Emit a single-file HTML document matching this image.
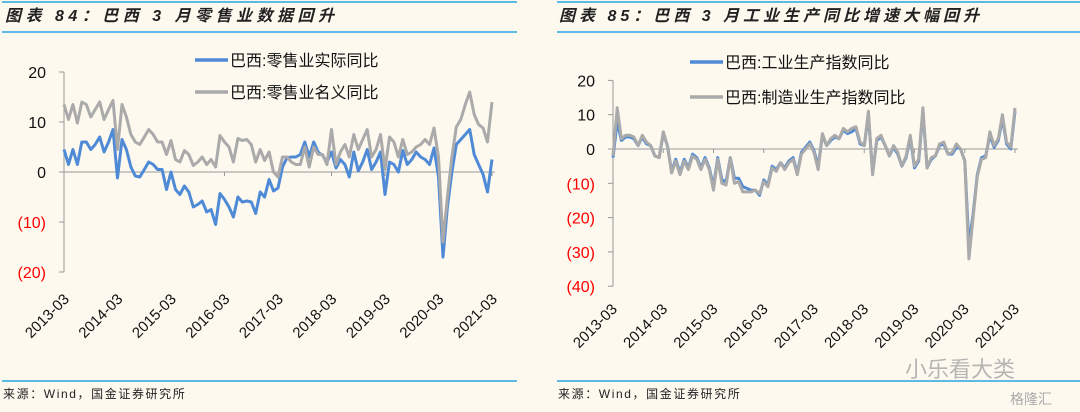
<!DOCTYPE html>
<html><head><meta charset="utf-8">
<style>
body{margin:0;background:#fdf9ef;}
svg{display:block;font-family:"Liberation Sans","Noto Sans CJK SC",sans-serif;}
</style></head>
<body>
<svg id="c" width="1080" height="412">
<rect width="1080" height="412" fill="#fdf9ef"/>
</svg>
<script>
const years=["2013-03","2014-03","2015-03","2016-03","2017-03","2018-03","2019-03","2020-03","2021-03"];
const leftTicks=[20,10,0,-10,-20];
const rightTicks=[20,10,0,-10,-20,-30,-40];
const retailReal=[4.5,1.5,4.5,1.5,6,6,4.5,5.5,7,4,6,8.5,-1.2,6.5,4.5,1,-0.8,-1,0.5,2,1.5,0.5,0.5,-3.5,0,-3.5,-4.5,-2.8,-4,-7,-6.5,-5.8,-8,-7.5,-10.5,-4.3,-5.5,-7,-9,-5,-6,-5.8,-6,-8.3,-4,-5,-1.5,-3.8,-3.2,1,2.8,3,3,3.5,6,3,6,4,3.3,2,4,0.8,2.5,1.5,-1,4,0.2,2,4.5,0.5,2,4,-4.5,2,1.5,0,4.3,1.5,2.5,4,3,2.5,1.5,4.8,-1,-17,-7,0,5.5,6.5,7.5,8.5,3.5,1.5,-0.5,-4,2.5];
const retailNominal=[13.5,10.5,13.5,9.8,14,13.5,11,12.5,14,10.5,12.5,14.3,4.5,13.5,11,7.5,6,5.5,7,8.5,7.5,6,6,3.5,6.3,2.5,2,4.3,3.5,1.3,2,3,1.5,2.5,1,7.3,6,5,2,6.7,6.3,6.5,5.5,2,4.5,2.3,4,0,-1,3,3,2,1.5,1.5,5,1,5,3.5,3.5,1.5,8.5,1.5,4,5.5,3,7.5,4.5,6.5,8.5,3,4.5,7.5,0.5,7,6,3,6.5,3.5,4,5,5.5,6.5,5.5,8.8,3,-14,-5,3,9,10.5,13.5,16,11.5,9.5,8.8,6,14];
const indProd=[-2.5,8,2.5,3.5,3.5,3,1,3.5,1.5,1,-2,-2.5,4.5,1,-6.5,-3,-7,-3,-5.5,-1.5,-2.5,-5.5,-2.5,-5.5,-11,-2.5,-9,-9.5,-2.5,-8.5,-8.5,-11,-11.5,-12,-12,-13.5,-9,-10.5,-5,-6,-4,-5.5,-3.5,-2.5,-7,-1,0.5,2,-0.5,-5,4,1,2.5,3.5,3,5.5,4.5,5,6,1.5,1,10,-7,2.5,3.5,1,-2,0.5,-1.5,-5,-2.5,3.5,-5.5,-3.5,11,-5.5,-3,-2,1,1.5,-1.5,-1.5,0.5,0,-3.5,-28,-19,-7.5,-2.5,-2,4,0.5,2.5,9,1.5,0,11];
const mfgProd=[-2,12,3,4,4,3.5,1,4,2,1,-2,-2.5,5,1,-7,-3.5,-7.5,-3.5,-6,-2,-3,-6,-3,-6,-12,-3,-10,-10.5,-2.5,-10,-9.5,-12.5,-12.5,-12.5,-12,-13,-9.5,-11,-5.5,-6.5,-4,-6,-4,-3,-7.5,-1.5,0,1.5,-1,-6,4.5,1,3,4,3,6,5,6,6.5,2,1,11,-7.5,3,4,1,-2,1,-1,-5,-2,4,-5,-3,12,-5.5,-2.5,-2,1.5,2,-1.5,-1,1.5,0,-3.5,-32,-20,-8,-3,-2.5,5,1,3,10,2,0.5,12];

const S='http://www.w3.org/2000/svg';
const svg=document.getElementById('c');
function el(t,a,p){const e=document.createElementNS(S,t);for(const k in a)e.setAttribute(k,a[k]);(p||svg).appendChild(e);return e;}

function drawChart(o){
  const g=el('g',{});
  
  
  const xs=i=>o.x0+(o.x1-o.x0)*i/(o.n-1);
  const ys=v=>o.yZero-v*o.ppu;
  const t=el('text',{x:o.tx,y:21,'font-size':16,'font-weight':'bold','font-style':'italic',fill:'#222','letter-spacing':o.ls},g);
  t.textContent=o.title;
  
  
  el('line',{x1:o.rx0,x2:o.rx1,y1:2,y2:2,stroke:'#2aa6e0','stroke-width':1.5},g);
  el('line',{x1:o.rx0,x2:o.rx1,y1:32,y2:32,stroke:'#2aa6e0','stroke-width':1.5},g);
  el('line',{x1:o.rx0,x2:o.rx1,y1:381,y2:381,stroke:'#2aa6e0','stroke-width':1.5},g);
  const src=el('text',{x:o.rx0+1,y:398,'font-size':12,fill:'#222','letter-spacing':1.6},g);
  src.textContent='来源：Wind，国金证券研究所';
  
  
  const top=ys(o.ticks[0]),bot=ys(o.ticks[o.ticks.length-1]);
  el('line',{x1:o.x0,x2:o.x0,y1:top,y2:bot,stroke:'#999','stroke-width':1},g);
  o.ticks.forEach(v=>{
    el('line',{x1:o.x0-5,x2:o.x0,y1:ys(v),y2:ys(v),stroke:'#999'},g);
    const l=el('text',{x:o.x0-18,y:ys(v)+6,'font-size':16,'text-anchor':'end',fill:v<0?'#f00':'#111'},g);
    l.textContent=v<0?'('+(-v)+')':String(v);
    
    
  });
  el('line',{x1:o.x0,x2:xs(o.n-1)+3,y1:ys(0),y2:ys(0),stroke:'#999','stroke-width':1},g);
  years.forEach((y,i)=>{
    const x=xs(i*12);
    el('line',{x1:x,x2:x,y1:ys(0),y2:ys(0)+4,stroke:'#999'},g);
    const l=el('text',{x:x+o.lx,y:o.ly,'font-size':15,'text-anchor':'end',fill:'#111',transform:`rotate(-45 ${x+o.lx} ${o.ly})`},g);
    l.textContent=y;
    
    
  });
  o.series.forEach((s,k)=>{
    const p=el('polyline',{points:s.data.map((v,i)=>xs(i).toFixed(1)+','+ys(v).toFixed(1)).join(' '),fill:'none',stroke:s.color,'stroke-width':3,'stroke-linejoin':'round'},g);
    
    
    const ly=o.legY[k];
    el('line',{x1:o.legX,x2:o.legX+33,y1:ly,y2:ly,stroke:s.color,'stroke-width':3.5},g);
    const lt=el('text',{x:o.legX+35,y:ly+6,'font-size':16,fill:'#111'},g);
    lt.textContent=s.label;
    
    
  });
}
drawChart({name:'retail-chart',title:'图表 84：巴西 3 月零售业数据回升',tx:5,rx0:2,rx1:517,ls:4.5,
  x0:64,x1:492,n:97,yZero:172,ppu:5,ticks:leftTicks,lx:6,ly:300,legX:195,legY:[60,92],
  series:[{id:'retail-real-line',label:'巴西:零售业实际同比',color:'#4f8ad6',data:retailReal},
          {id:'retail-nominal-line',label:'巴西:零售业名义同比',color:'#aaaaaa',data:retailNominal}]});
drawChart({name:'industry-chart',title:'图表 85：巴西 3 月工业生产同比增速大幅回升',tx:559,rx0:557,rx1:1080,ls:4,
  x0:613,x1:1015,n:97,yZero:149,ppu:3.43,ticks:rightTicks,lx:5,ly:310,legX:690,legY:[62,97],
  series:[{id:'industrial-production-line',label:'巴西:工业生产指数同比',color:'#4f8ad6',data:indProd},
          {id:'manufacturing-production-line',label:'巴西:制造业生产指数同比',color:'#aaaaaa',data:mfgProd}]});
const wm=el('text',{x:905,y:377,'font-size':22,fill:'#999','opacity':0.7});
wm.textContent='小乐看大类';


const wm2=el('text',{x:1010,y:404,'font-size':14,fill:'#aaa'});
wm2.textContent='格隆汇';


</script>
</body></html>
